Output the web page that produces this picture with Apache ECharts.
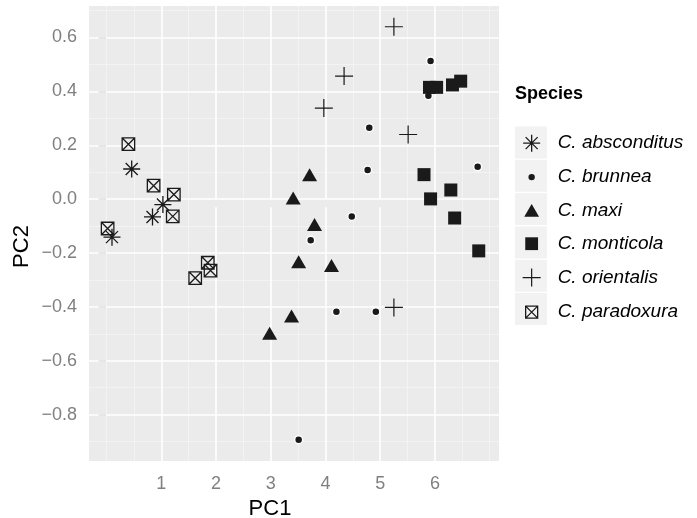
<!DOCTYPE html>
<html>
<head>
<meta charset="utf-8">
<script src="https://cdn.jsdelivr.net/npm/echarts@6/dist/echarts.min.js"></script>
<style>html,body{margin:0;padding:0;background:#fff}#c{width:697px;height:518px}</style>
</head>
<body>
<div id="c"></div>
<script>
// ---- data ----
const speciesNames = ['C. absconditus','C. brunnea','C. maxi','C. monticola','C. orientalis','C. paradoxura'];
const abscondX = [0.46, 1.03, 0.84, 0.10];
const abscondY = [0.112, -0.020, -0.066, -0.141];
const brunneaX = [5.92, 5.88, 4.80, 4.77, 6.78, 4.48, 3.73, 4.20, 4.92, 3.51];
const brunneaY = [0.513, 0.384, 0.265, 0.108, 0.120, -0.064, -0.153, -0.418, -0.418, -0.893];
const maxiX = [3.71, 3.41, 3.80, 3.51, 4.11, 3.38, 2.98];
const maxiY = [0.091, 0.004, -0.094, -0.232, -0.246, -0.434, -0.498];
const monticolaX = [5.90, 6.03, 6.32, 6.47, 5.80, 6.29, 5.92, 6.36, 6.80];
const monticolaY = [0.415, 0.415, 0.424, 0.438, 0.091, 0.034, 0.001, -0.070, -0.192];
const orientalisX = [5.25, 4.34, 3.97, 5.51, 5.25];
const orientalisY = [0.640, 0.457, 0.338, 0.240, -0.402];
const paradoxX = [0.40, 0.86, 1.23, 1.21, 0.02, 1.85, 1.90, 1.62];
const paradoxY = [0.204, 0.050, 0.017, -0.064, -0.109, -0.236, -0.265, -0.293];

const xTicks = [1, 2, 3, 4, 5, 6];
const xMinor = [0, 0.5, 1.5, 2.5, 3.5, 4.5, 5.5, 6.5, 7];
const yTicks = [-0.8, -0.6, -0.4, -0.2, 0, 0.2, 0.4, 0.6];
const yMinor = [-0.9, -0.7, -0.5, -0.3, -0.1, 0.1, 0.3, 0.5, 0.7];

// ---- styles ----
const INK = '#1a1a1a';
const FONT = '"Liberation Sans", Arial, Helvetica, sans-serif';
const zip = (xs, ys) => xs.map((x, i) => [x, ys[i]]);
const fmt = v => (v < 0 ? '\u2212' : '') + Math.abs(v).toFixed(1);

const sym = {
  aster: 'path://M8.5 0L8.5 17M0 8.5L17 8.5M2.49 2.49L14.51 14.51M14.51 2.49L2.49 14.51',
  plus: 'path://M9 0L9 18M0 9L18 9',
  boxx: 'path://M0 0L12 0L12 12L0 12ZM0 0L12 12M12 0L0 12'
};
// legend icons drawn inside a 32x32 frame (leading moves fix the frame)
const F = 'path://M0 0M32 32';
const legIcons = [
  F + 'M16 7.5L16 24.5M7.5 16L24.5 16M9.99 9.99L22.01 22.01M22.01 9.99L9.99 22.01',
  F + 'M19.2 16A3.2 3.2 0 1 1 12.8 16A3.2 3.2 0 1 1 19.2 16Z',
  F + 'M16 9.6L23.4 22.4L8.6 22.4Z',
  F + 'M9.6 9.6L22.4 9.6L22.4 22.4L9.6 22.4Z',
  F + 'M16 7L16 25M7 16L25 16',
  F + 'M10 10L22 10L22 22L10 22ZM10 10L22 22M22 10L10 22'
];
const legStyles = [
  {color: 'rgba(0,0,0,0)', borderColor: INK, borderWidth: 1.3, opacity: 1},
  {color: INK, borderWidth: 0, opacity: 1},
  {color: INK, borderWidth: 0, opacity: 1},
  {color: INK, borderWidth: 0, opacity: 1},
  {color: 'rgba(0,0,0,0)', borderColor: INK, borderWidth: 1.2, opacity: 1},
  {color: 'rgba(0,0,0,0)', borderColor: INK, borderWidth: 1.3, opacity: 1}
];

const gridLines = [].concat(
  xMinor.map(v => ({xAxis: v, lineStyle: {color: '#f5f5f5', width: 0.8, type: 'solid'}})),
  yMinor.map(v => ({yAxis: v, lineStyle: {color: '#f5f5f5', width: 0.8, type: 'solid'}})),
  xTicks.map(v => ({xAxis: v, lineStyle: {color: '#ffffff', width: 1.6, type: 'solid'}})),
  yTicks.map(v => ({yAxis: v, lineStyle: {color: '#ffffff', width: 1.6, type: 'solid'}}))
);

const chart = echarts.init(document.getElementById('c'), null, {renderer: 'canvas'});
const option = {
  animation: false,
  backgroundColor: '#ffffff',
  textStyle: {fontFamily: FONT},
  title: {
    text: 'Species', left: 515, top: 85, padding: 0,
    textStyle: {fontFamily: FONT, fontWeight: 'bold', fontSize: 18, color: '#000'}
  },
  grid: {
    left: 89, right: 198, top: 6, bottom: 57,
    show: true, backgroundColor: '#ebebeb', borderWidth: 0,
    containLabel: false, outerBoundsMode: 'none'
  },
  xAxis: {
    type: 'value', min: -0.32, max: 7.17,
    name: 'PC1', nameLocation: 'middle', nameGap: 33,
    nameTextStyle: {fontFamily: FONT, fontSize: 22, color: '#000', padding: [0, 48, 0, 0]},
    axisLine: {show: false},
    axisTick: {show: true, length: 8, customValues: xTicks, lineStyle: {color: '#8a8a8a', width: 1.6}},
    axisLabel: {customValues: xTicks, margin: 14, fontSize: 18, color: '#808080', fontFamily: FONT},
    splitLine: {show: false}
  },
  yAxis: {
    type: 'value', min: -0.972, max: 0.717,
    name: 'PC2', nameLocation: 'middle', nameGap: 56, nameRotate: 90, nameMoveOverlap: false,
    nameTextStyle: {fontFamily: FONT, fontSize: 22, color: '#000', padding: [0, 26, 0, 0]},
    axisLine: {show: false},
    axisTick: {show: true, length: 8, customValues: yTicks, lineStyle: {color: '#8a8a8a', width: 1.6}},
    axisLabel: {customValues: yTicks, margin: 12, fontSize: 18, color: '#808080', fontFamily: FONT, formatter: fmt},
    splitLine: {show: false}
  },
  legend: [
    {
      data: speciesNames.map(n => ({name: n, icon: 'rect'})),
      orient: 'vertical', left: 515, top: 126.5, padding: 0,
      itemWidth: 32, itemHeight: 32, itemGap: 1.3,
      selectedMode: false, z: 1,
      itemStyle: {color: '#f2f2f2', borderWidth: 0, opacity: 1},
      formatter: () => '',
      textStyle: {fontSize: 1}
    },
    {
      data: speciesNames.map((n, i) => ({name: n, icon: legIcons[i], itemStyle: legStyles[i]})),
      orient: 'vertical', left: 515, top: 126.5, padding: 0,
      itemWidth: 32, itemHeight: 32, itemGap: 1.3,
      selectedMode: false, z: 2, symbolKeepAspect: true,
      textStyle: {fontFamily: FONT, fontSize: 19, fontStyle: 'italic', color: '#000', padding: [0, 0, 0, 5]}
    }
  ],
  series: [
    {
      type: 'scatter', name: '_grid', data: [], z: 1, silent: true,
      markLine: {silent: true, z: 1, symbol: ['none', 'none'], label: {show: false}, data: gridLines, animation: false}
    },
    {
      type: 'scatter', name: speciesNames[0], data: zip(abscondX, abscondY), z: 10,
      symbol: sym.aster, symbolSize: 17,
      itemStyle: {color: 'rgba(0,0,0,0)', borderColor: INK, borderWidth: 1.3, opacity: 1}
    },
    {
      type: 'scatter', name: speciesNames[1], data: zip(brunneaX, brunneaY), z: 10,
      symbol: 'circle', symbolSize: 8,
      itemStyle: {color: INK, borderColor: '#ffffff', borderWidth: 1.5, opacity: 1}
    },
    {
      type: 'scatter', name: speciesNames[2], data: zip(maxiX, maxiY), z: 10,
      symbol: 'triangle', symbolSize: [15, 13],
      itemStyle: {color: INK, borderWidth: 0, opacity: 1}
    },
    {
      type: 'scatter', name: speciesNames[3], data: zip(monticolaX, monticolaY), z: 10,
      symbol: 'rect', symbolSize: 13,
      itemStyle: {color: INK, borderWidth: 0, opacity: 1}
    },
    {
      type: 'scatter', name: speciesNames[4], data: zip(orientalisX, orientalisY), z: 10,
      symbol: sym.plus, symbolSize: 18,
      itemStyle: {color: 'rgba(0,0,0,0)', borderColor: INK, borderWidth: 1.2, opacity: 1}
    },
    {
      type: 'scatter', name: speciesNames[5], data: zip(paradoxX, paradoxY), z: 10,
      symbol: sym.boxx, symbolSize: 12.5,
      itemStyle: {color: 'rgba(0,0,0,0)', borderColor: INK, borderWidth: 1.3, opacity: 1}
    }
  ]
};
chart.setOption(option);
</script>
</body>
</html>
